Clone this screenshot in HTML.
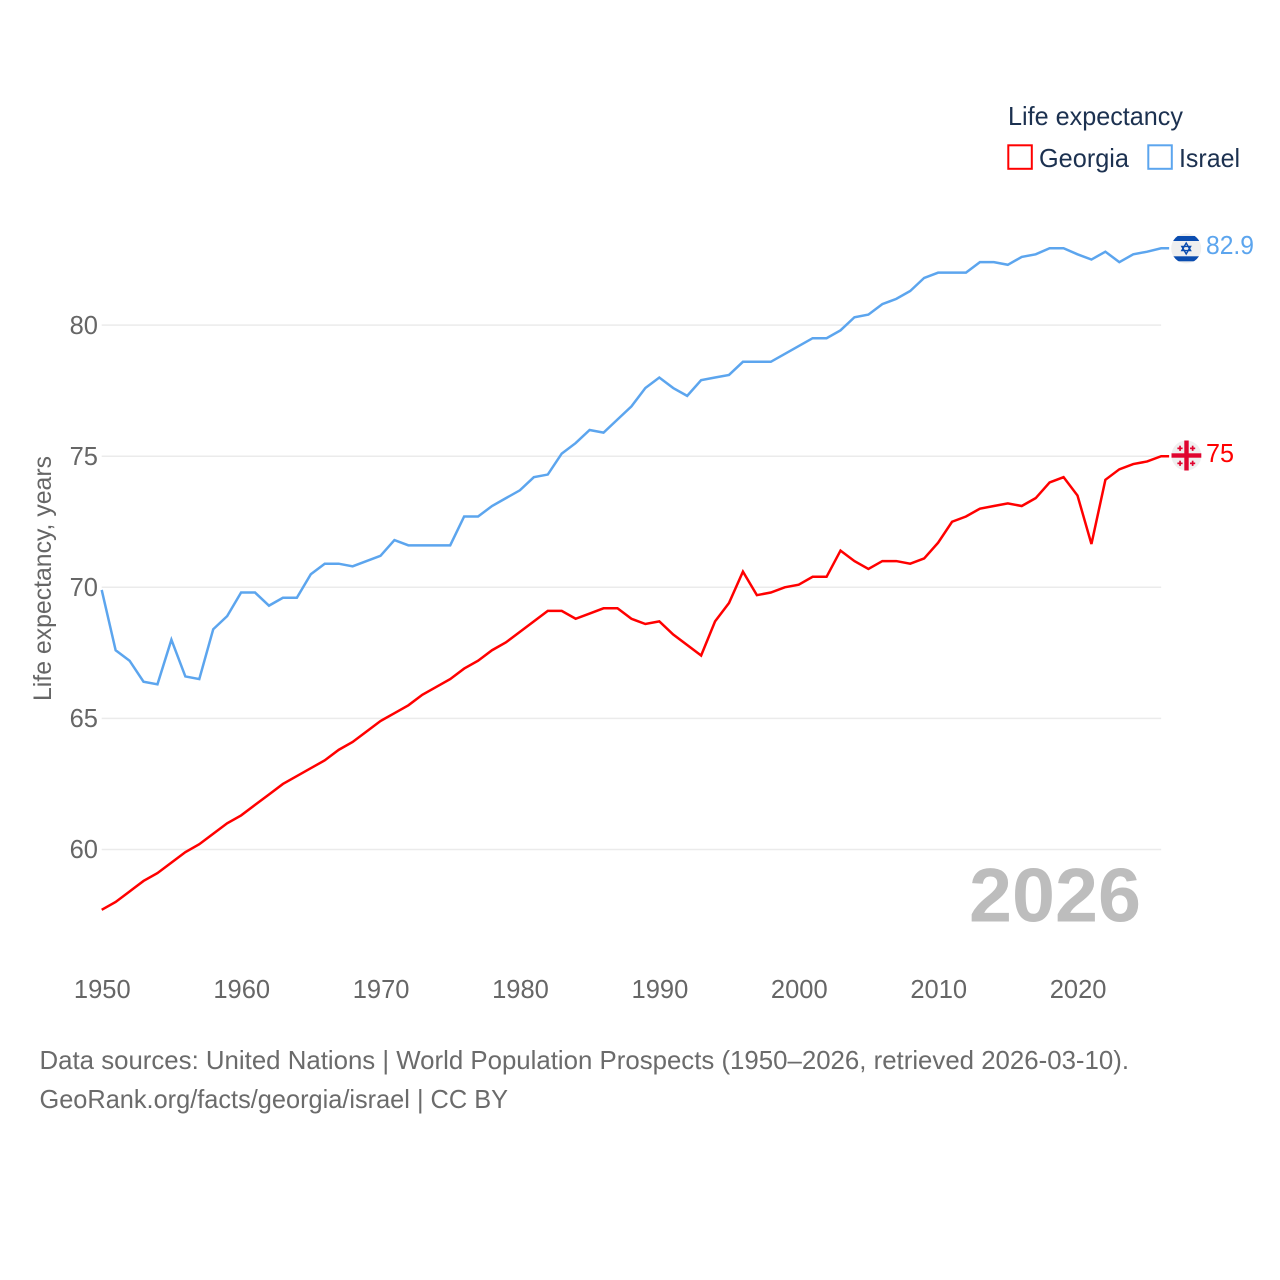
<!DOCTYPE html>
<html lang="en">
<head>
<meta charset="utf-8">
<title>Life expectancy: Georgia and Israel</title>
<style>
html,body{margin:0;padding:0;background:#fff;width:1280px;height:1280px;overflow:hidden}
svg{display:block}
text{font-family:"Liberation Sans",sans-serif}
</style>
</head>
<body>
<svg id="chart" xmlns="http://www.w3.org/2000/svg" width="1280" height="1280" viewBox="0 0 1280 1280">
  <g id="grid"></g>
  <g id="yticks"></g>
  <g id="xticks"></g>
  <text transform="translate(51,701) rotate(-90)" font-size="25" fill="#666" textLength="245" lengthAdjust="spacingAndGlyphs">Life expectancy, years</text>
  <text x="969" y="921.5" font-size="76" font-weight="700" fill="#bdbdbd" textLength="172" lengthAdjust="spacingAndGlyphs">2026</text>
  <g id="series"></g>

  <g>
    <text x="1008" y="125" font-size="26" fill="#1c3150" textLength="175" lengthAdjust="spacingAndGlyphs">Life expectancy</text>
    <g>
      <rect x="1008.3" y="145.3" width="23.5" height="23.5" fill="#fff" stroke="#ff0000" stroke-width="2"/>
      <text x="1039" y="167" font-size="26" fill="#1c3150" textLength="90" lengthAdjust="spacingAndGlyphs">Georgia</text>
    </g>
    <g>
      <rect x="1148.3" y="145.3" width="23.5" height="23.5" fill="#fff" stroke="#5ca5ee" stroke-width="2"/>
      <text x="1179" y="167" font-size="26" fill="#1c3150" textLength="61" lengthAdjust="spacingAndGlyphs">Israel</text>
    </g>
  </g>

  <defs>
    <clipPath id="flag-clip-il"><circle cx="1186.2" cy="248.4" r="15"/></clipPath>
  </defs>
  <g>
    <circle cx="1186.2" cy="248.4" r="15" fill="#efefef"/>
    <g clip-path="url(#flag-clip-il)">
      <rect x="1170" y="236" width="32" height="5" fill="#0b4db0"/>
      <rect x="1170" y="256.3" width="32" height="5" fill="#0b4db0"/>
      <polygon points="1186.2,243 1190.6,250.6 1181.8,250.6" fill="none" stroke="#0b4db0" stroke-width="1.4"/>
      <polygon points="1186.2,254 1190.6,246.4 1181.8,246.4" fill="none" stroke="#0b4db0" stroke-width="1.4"/>
    </g>
  </g>
  <text id="label-israel" x="1206" y="254" font-size="26" fill="#5ca5ee" textLength="48" lengthAdjust="spacingAndGlyphs">82.9</text>

  <g>
    <circle cx="1186.4" cy="455.5" r="15" fill="#efefef"/>
    <rect x="1184.3" y="440.5" width="4.4" height="30" fill="#e0042f"/>
    <rect x="1171.5" y="453.3" width="29.8" height="4.4" fill="#e0042f"/>
    <g fill="#e0042f">
      <rect x="1177.4" y="447.5" width="5.2" height="1.7"/><rect x="1179.2" y="445.7" width="1.7" height="5.2"/>
      <rect x="1190" y="447.5" width="5.2" height="1.7"/><rect x="1191.8" y="445.7" width="1.7" height="5.2"/>
      <rect x="1177.4" y="462.5" width="5.2" height="1.7"/><rect x="1179.2" y="460.7" width="1.7" height="5.2"/>
      <rect x="1190" y="462.5" width="5.2" height="1.7"/><rect x="1191.8" y="460.7" width="1.7" height="5.2"/>
    </g>
  </g>
  <text id="label-georgia" x="1206" y="462" font-size="26" fill="#ff0000" textLength="28" lengthAdjust="spacingAndGlyphs">75</text>

  <g>
    <text x="39.5" y="1069" font-size="26" fill="#6b6b6b" textLength="1089.5" lengthAdjust="spacingAndGlyphs">Data sources: United Nations | World Population Prospects (1950–2026, retrieved 2026-03-10).</text>
    <text x="39.5" y="1108" font-size="26" fill="#6b6b6b" textLength="468.5" lengthAdjust="spacingAndGlyphs">GeoRank.org/facts/georgia/israel | CC BY</text>
  </g>
</svg>
<script>
const startYear = 1950;
const xTickLabels = [1950, 1960, 1970, 1980, 1990, 2000, 2010, 2020];
const yTickLabels = [60, 65, 70, 75, 80];
const georgiaValues = [57.7,58.0,58.4,58.8,59.1,59.5,59.9,60.2,60.6,61.0,61.3,61.7,62.1,62.5,62.8,63.1,63.4,63.8,64.1,64.5,64.9,65.2,65.5,65.9,66.2,66.5,66.9,67.2,67.6,67.9,68.3,68.7,69.1,69.1,68.8,69.0,69.2,69.2,68.8,68.6,68.7,68.2,67.8,67.4,68.7,69.4,70.6,69.7,69.8,70.0,70.1,70.4,70.4,71.4,71.0,70.7,71.0,71.0,70.9,71.1,71.7,72.5,72.7,73.0,73.1,73.2,73.1,73.4,74.0,74.2,73.5,71.65,74.1,74.5,74.7,74.8,75.0];
const israelValues = [69.9,67.6,67.2,66.4,66.3,68.0,66.6,66.5,68.4,68.9,69.8,69.8,69.3,69.6,69.6,70.5,70.9,70.9,70.8,71.0,71.2,71.8,71.6,71.6,71.6,71.6,72.7,72.7,73.1,73.4,73.7,74.2,74.3,75.1,75.5,76.0,75.9,76.4,76.9,77.6,78.0,77.6,77.3,77.9,78.0,78.1,78.6,78.6,78.6,78.9,79.2,79.5,79.5,79.8,80.3,80.4,80.8,81.0,81.3,81.8,82.0,82.0,82.0,82.4,82.4,82.3,82.6,82.7,82.93,82.93,82.7,82.5,82.8,82.4,82.7,82.8,82.93];

const NS = 'http://www.w3.org/2000/svg';
function xScale(year) { return 101.7 + (year - 1950) * 13.94; }
function yScale(value) { return 849.5 - (value - 60) * 26.22; }

const gridGroup = document.getElementById('grid');
const yGroup = document.getElementById('yticks');
const xGroup = document.getElementById('xticks');
const seriesGroup = document.getElementById('series');

yTickLabels.forEach(function (tick) {
  const line = document.createElementNS(NS, 'line');
  
  
  line.setAttribute('x1', xScale(1950));
  line.setAttribute('x2', xScale(2026));
  line.setAttribute('y1', yScale(tick));
  line.setAttribute('y2', yScale(tick));
  line.setAttribute('stroke', '#ebebeb');
  line.setAttribute('stroke-width', '1.5');
  gridGroup.appendChild(line);

  const label = document.createElementNS(NS, 'text');
  
  
  label.setAttribute('x', 98);
  label.setAttribute('y', yScale(tick) + 8.7);
  label.setAttribute('text-anchor', 'end');
  label.setAttribute('font-size', '25.5');
  label.setAttribute('fill', '#666');
  label.textContent = tick;
  yGroup.appendChild(label);
});

xTickLabels.forEach(function (tick) {
  const label = document.createElementNS(NS, 'text');
  
  
  label.setAttribute('x', xScale(tick) + 0.6);
  label.setAttribute('y', 998);
  label.setAttribute('text-anchor', 'middle');
  label.setAttribute('font-size', '25.5');
  label.setAttribute('fill', '#666');
  label.textContent = tick;
  xGroup.appendChild(label);
});

function pathFor(values) {
  let d = values.map(function (v, i) {
    return (i ? 'L' : 'M') + xScale(startYear + i).toFixed(2) + ' ' + yScale(v).toFixed(2);
  }).join(' ');
  const last = values[values.length - 1];
  d += ' L' + (xScale(startYear + values.length - 1) + 8).toFixed(2) + ' ' + yScale(last).toFixed(2);
  return d;
}

const georgiaLine = document.createElementNS(NS, 'path');


georgiaLine.setAttribute('d', pathFor(georgiaValues));
georgiaLine.setAttribute('fill', 'none');
georgiaLine.setAttribute('stroke', '#ff0000');
georgiaLine.setAttribute('stroke-width', '2.5');
seriesGroup.appendChild(georgiaLine);

const israelLine = document.createElementNS(NS, 'path');


israelLine.setAttribute('d', pathFor(israelValues));
israelLine.setAttribute('fill', 'none');
israelLine.setAttribute('stroke', '#5ca5ee');
israelLine.setAttribute('stroke-width', '2.5');
seriesGroup.appendChild(israelLine);
</script>
</body>
</html>
